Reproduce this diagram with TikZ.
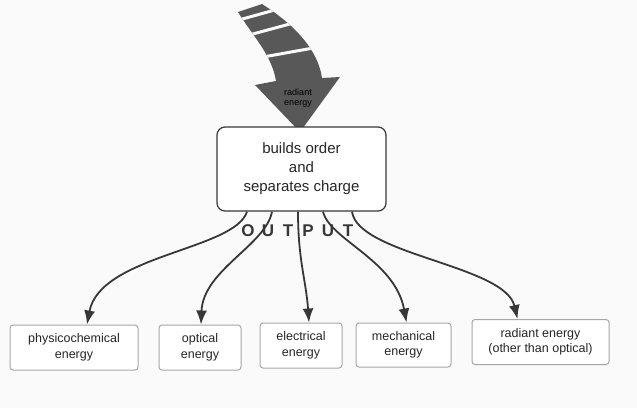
\documentclass[tikz,border=0pt]{standalone}
\usepackage{fontspec}
\setmainfont{Liberation Sans}
\usepackage{tikz}
\usetikzlibrary{positioning,arrows.meta}

\definecolor{paper}{RGB}{250,250,250}
\definecolor{ink}{RGB}{55,55,55}
\definecolor{beam}{RGB}{88,88,88}

\begin{document}
\begin{tikzpicture}[x=1pt,y=-1pt,
		hubbox/.style={draw=ink,line width=1.2pt,rounded corners=8pt,fill=white,
			minimum width=169pt,minimum height=84pt,align=center,text=black!85,
			font=\fontsize{15}{19}\selectfont},
		outbox/.style={draw=gray!70,line width=1pt,rounded corners=3pt,fill=white,
			minimum height=45pt,align=center,inner sep=2pt,text=black!85,
			font=\fontsize{12.5}{15.5}\selectfont},
		flow/.style={draw=ink,line width=1.8pt,-{Latex[length=14pt,width=11pt]}},
		letter/.style={text=ink,font=\fontsize{17}{17}\selectfont\bfseries,inner sep=0pt}]
		\fill[paper] (0,0) rectangle (637,408);
		\useasboundingbox (0,0) rectangle (637,408);
		% incoming radiant energy
		\begin{scope}
			\fill[beam] (238,12) .. controls (252,35) and (272,55) .. (276,81)
				-- (255,85) -- (300,132) -- (340,77) -- (322,78)
				.. controls (318,50) and (295,25) .. (262,4) -- cycle;
			\clip (238,12) .. controls (252,35) and (272,55) .. (276,81)
				-- (322,78) .. controls (318,50) and (295,25) .. (262,4) -- cycle;
			\draw[paper,line width=3pt] (228,23) -- (282,8);
			\draw[paper,line width=3pt] (238,38) -- (312,18);
			\draw[paper,line width=3pt] (252,59) -- (330,45);
		\end{scope}
		\node(rad) at (298,98) [align=center,inner sep=0pt,
			font=\fontsize{9}{10}\selectfont] {radiant\\energy};
		% the system
		\node(hub) at (301.5,169) [hubbox,text depth=3pt] {builds order\\and\\separates charge};
		% outputs
		\node(b1) at (74,347.5) [outbox,minimum width=128pt] {physicochemical\\energy};
		\node(b2) [right=20pt of b1,outbox,minimum width=82pt] {optical\\energy};
		\node(b3) [right=18pt of b2,yshift=2pt,outbox,minimum width=82pt] {electrical\\energy};
		\node(b4) [right=13pt of b3,yshift=0.5pt,outbox,minimum width=95pt,minimum height=44pt] {mechanical\\energy};
		\node(b5) [right=20pt of b4,yshift=3pt,outbox,minimum width=137pt] {radiant energy\\(other than optical)};
		\foreach \ch [count=\i] in {O,U,T,P,U,T}
			\node(out\i) at (228+20*\i,231) [letter] {\ch};
		\draw[flow] ([xshift=-54.5pt]hub.south) .. controls (235,250) and (100,255) .. ([xshift=13pt]b1.north);
		\draw[flow] ([xshift=-29.5pt]hub.south) .. controls (266,245) and (203,270) .. ([xshift=1pt]b2.north);
		\draw[flow] ([xshift=-3.5pt]hub.south) .. controls (298,260) and (306,280) .. ([xshift=8pt]b3.north);
		\draw[flow] ([xshift=21.5pt]hub.south) .. controls (330,240) and (395,260) .. ([xshift=3pt]b4.north);
		\draw[flow] ([xshift=50.5pt]hub.south) .. controls (358,255) and (505,265) .. ([xshift=-23pt]b5.north);
	\end{tikzpicture}
\end{document}
